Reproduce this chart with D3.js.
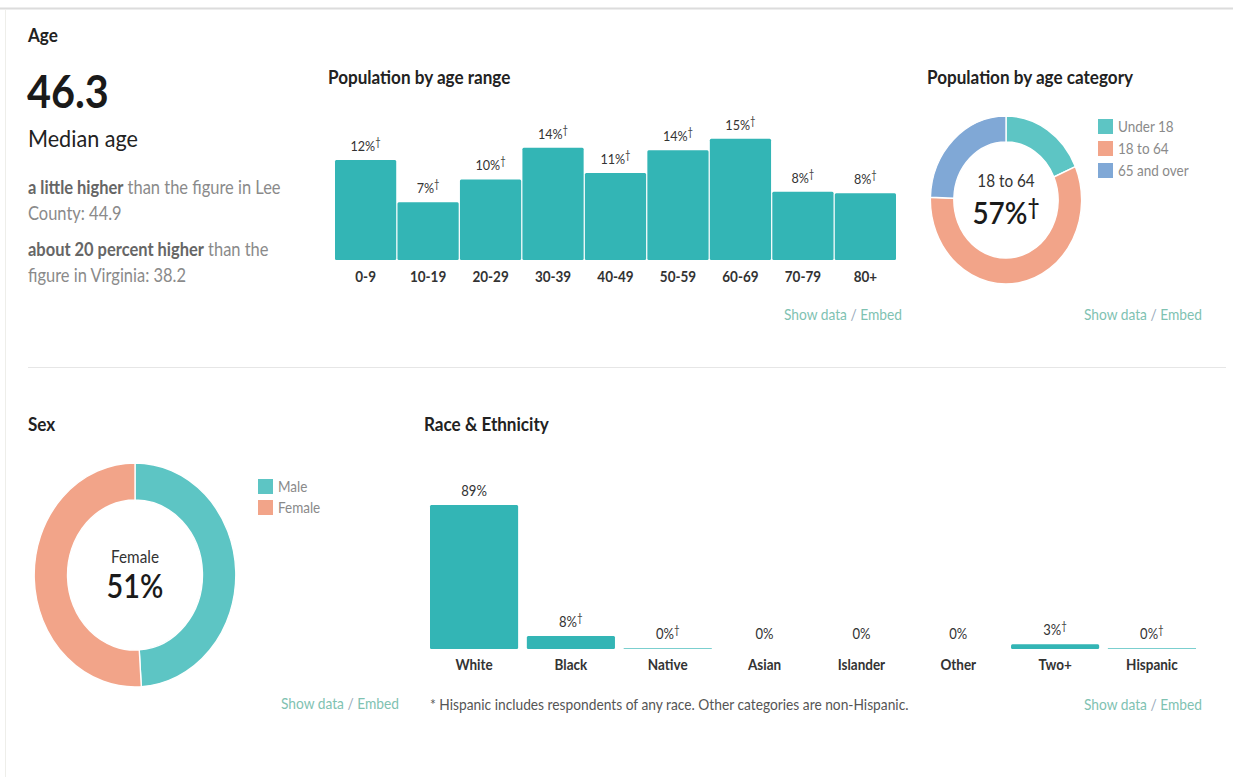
<!DOCTYPE html>
<head>
  <meta charset="utf-8">
  <script src="https://d3js.org/d3.v7.min.js"></script>
  <style>
    body { margin:0; background:#fff; }
    text { font-family: Lato, sans-serif; }
  </style>
</head>
<body>
<script>
  // values
  var ageRanges = ['0-9', '10-19', '20-29', '30-39', '40-49', '50-59', '60-69', '70-79', '80+'];
  var ageShares = [12.3, 7.1, 9.9, 13.8, 10.7, 13.5, 14.9, 8.4, 8.2];

  var ageCats = ['Under 18', '18 to 64', '65 and over'];
  var ageCatShares = [18.5, 57, 24.5];

  var sexCats = ['Male', 'Female'];
  var sexShares = [49, 51];

  var raceCats = ['White', 'Black', 'Native', 'Asian', 'Islander', 'Other', 'Two+', 'Hispanic'];
  var raceShares = [89, 8, 0.4, 0, 0, 0, 3, 0.4];
  var raceDagger = [false, true, true, false, false, false, true, true];

  var width = 1233, height = 777;
  var K = 0.9;              // the screenshot is squeezed horizontally
  var sx = v => v / K;

  var teal = '#33b5b5', donutTeal = '#5dc5c4', salmon = '#f2a489', blue = '#80a8d6';
  var linkCol = '#7fc2b2';

  var svg = d3.select('body').append('svg')
    .attr('width', width).attr('height', height);

  // page frame
  svg.append('line').attr('x1', 0).attr('x2', width).attr('y1', 8.5).attr('y2', 8.5)
    .style('stroke', '#dcdcdc').style('stroke-width', 2);
  svg.append('line').attr('x1', 5.5).attr('x2', 5.5).attr('y1', 9).attr('y2', height)
    .style('stroke', '#eeeeea');
  svg.append('line').attr('x1', 28).attr('x2', 1226).attr('y1', 367.5).attr('y2', 367.5)
    .style('stroke', '#e6e6e6');

  var g = svg.append('g').attr('transform', 'scale(' + K + ',1)');

  function txt(x, y, s, size, col, weight, anchor) {
    return g.append('text').attr('x', sx(x)).attr('y', y).text(s)
      .style('font-size', size + 'px').style('fill', col)
      .style('font-weight', weight || 400)
      .style('text-anchor', anchor || 'start');
  }
  function embed(xRight, y) {
    var t = g.append('text').attr('x', sx(xRight)).attr('y', y)
      .style('font-size', '15.3px').style('fill', linkCol).style('text-anchor', 'end');
    t.append('tspan').text('Show data');
    t.append('tspan').text(' / ').style('fill', '#9ab');
    t.append('tspan').text('Embed');
  }
  function withDagger(sel, s, dag, dy) {
    sel.append('tspan').text(s);
    if (dag) sel.append('tspan').text('†').attr('dy', dy).style('font-size', '0.75em');
  }

  // ---- Age text block
  txt(28, 42, 'Age', 19, '#222', 700);
  txt(27, 108, '46.3', 46, '#1a1a1a', 700);
  txt(28, 147, 'Median age', 24, '#222', 400);

  var p1 = g.append('text').attr('x', sx(28)).attr('y', 194).style('font-size', '18.3px').style('fill', '#8a8a8a');
  p1.append('tspan').text('a little higher').style('font-weight', 700).style('fill', '#666');
  p1.append('tspan').text(' than the figure in Lee');
  txt(28, 220, 'County: 44.9', 18.3, '#8a8a8a');
  var p2 = g.append('text').attr('x', sx(28)).attr('y', 256).style('font-size', '18.3px').style('fill', '#8a8a8a');
  p2.append('tspan').text('about 20 percent higher').style('font-weight', 700).style('fill', '#666');
  p2.append('tspan').text(' than the');
  txt(28, 282, 'figure in Virginia: 38.2', 18.3, '#8a8a8a');

  // ---- Population by age range
  txt(328, 84, 'Population by age range', 19, '#222', 700);

  var xAge = d3.scaleBand().domain(ageRanges).range([sx(335), sx(896)]).paddingInner(0.02);
  var yAge = d3.scaleLinear().domain([0, 15]).range([260, 138]);

  g.selectAll('.agebar').data(ageShares).enter().append('rect')
    .attr('class', 'agebar')
    .attr('x', (d, i) => xAge(ageRanges[i]))
    .attr('width', xAge.bandwidth())
    .attr('y', d => yAge(d))
    .attr('height', d => yAge(0) - yAge(d))
    .attr('rx', 1.5)
    .style('fill', teal);

  g.selectAll('.agelab').data(ageShares).enter().append('text')
    .attr('class', 'agelab')
    .attr('x', (d, i) => xAge(ageRanges[i]) + xAge.bandwidth() / 2)
    .attr('y', d => yAge(d) - 9)
    .style('text-anchor', 'middle').style('font-size', '14px').style('fill', '#333')
    .each(function(d) { withDagger(d3.select(this), Math.round(d) + '%', true, -5); });

  g.append('g').attr('transform', 'translate(0,260)')
    .call(d3.axisBottom(xAge).tickSize(0).tickPadding(11))
    .call(a => a.select('.domain').remove())
    .selectAll('text')
    .style('font-family', 'Lato, sans-serif').style('font-size', '15px')
    .style('font-weight', 700).style('fill', '#333');

  embed(902, 320);

  // ---- donut helper
  function donut(cx, cy, ro, ri, cats, vals, colors) {
    var pie = d3.pie().sort(null)(vals);
    var arc = d3.arc().outerRadius(ro).innerRadius(ri);
    var dg = g.append('g').attr('transform', 'translate(' + sx(cx) + ',' + cy + ')');
    dg.selectAll('path').data(pie).enter().append('path')
      .attr('d', arc)
      .style('fill', (d, i) => colors[i])
      .style('stroke', '#fff').style('stroke-width', 1.5);
    return dg;
  }
  function legend(x, y, cats, colors, step) {
    cats.forEach(function(c, i) {
      g.append('rect').attr('x', sx(x)).attr('y', y + i * step).attr('width', sx(15)).attr('height', 15)
        .style('fill', colors[i]);
      txt(x + 20, y + i * step + 13, c, 15, '#8a8a8a');
    });
  }

  // ---- Population by age category
  txt(927, 84, 'Population by age category', 19, '#222', 700);
  var d1 = donut(1006, 200, 84, 58, ageCats, ageCatShares, [donutTeal, salmon, blue]);
  d1.append('text').attr('y', -13).text('18 to 64')
    .style('text-anchor', 'middle').style('font-size', '17px').style('fill', '#333');
  var big1 = d1.append('text').attr('y', 24)
    .style('text-anchor', 'middle').style('font-size', '31px').style('fill', '#1a1a1a').style('font-weight', 600);
  withDagger(big1, '57%', true, -9);
  legend(1098, 119, ageCats, [donutTeal, salmon, blue], 22);
  embed(1202, 320);

  // ---- Sex
  txt(28, 431, 'Sex', 19, '#222', 700);
  var d2 = donut(135, 575, 112, 75, sexCats, sexShares, [donutTeal, salmon]);
  d2.append('text').attr('y', -12).text('Female')
    .style('text-anchor', 'middle').style('font-size', '17px').style('fill', '#333');
  d2.append('text').attr('y', 23).text('51%')
    .style('text-anchor', 'middle').style('font-size', '32px').style('fill', '#1a1a1a').style('font-weight', 600);
  legend(258, 479, sexCats, [donutTeal, salmon], 21);
  embed(399, 709);

  // ---- Race & Ethnicity
  txt(424, 431, 'Race & Ethnicity', 19, '#222', 700);

  var xRace = d3.scaleBand().domain(raceCats).range([sx(430), sx(1196)]).paddingInner(0.09);
  var yRace = d3.scaleLinear().domain([0, 89]).range([649, 505]);

  g.selectAll('.racebar').data(raceShares).enter().append('rect')
    .attr('class', 'racebar')
    .attr('x', (d, i) => xRace(raceCats[i]))
    .attr('width', xRace.bandwidth())
    .attr('y', d => yRace(d))
    .attr('height', d => yRace(0) - yRace(d))
    .attr('rx', d => d > 1 ? 1.5 : 0)
    .style('fill', teal);

  g.selectAll('.racelab').data(raceShares).enter().append('text')
    .attr('class', 'racelab')
    .attr('x', (d, i) => xRace(raceCats[i]) + xRace.bandwidth() / 2)
    .attr('y', d => Math.min(yRace(d), 648) - 9)
    .style('text-anchor', 'middle').style('font-size', '14.5px').style('fill', '#333')
    .each(function(d, i) { withDagger(d3.select(this), Math.round(d) + '%', raceDagger[i], -5); });

  g.append('g').attr('transform', 'translate(0,649)')
    .call(d3.axisBottom(xRace).tickSize(0).tickPadding(10))
    .call(a => a.select('.domain').remove())
    .selectAll('text')
    .style('font-family', 'Lato, sans-serif').style('font-size', '15px')
    .style('font-weight', 700).style('fill', '#333');

  txt(430, 710, '* Hispanic includes respondents of any race. Other categories are non-Hispanic.', 15.3, '#555');
  embed(1202, 710);
</script>
</body>
